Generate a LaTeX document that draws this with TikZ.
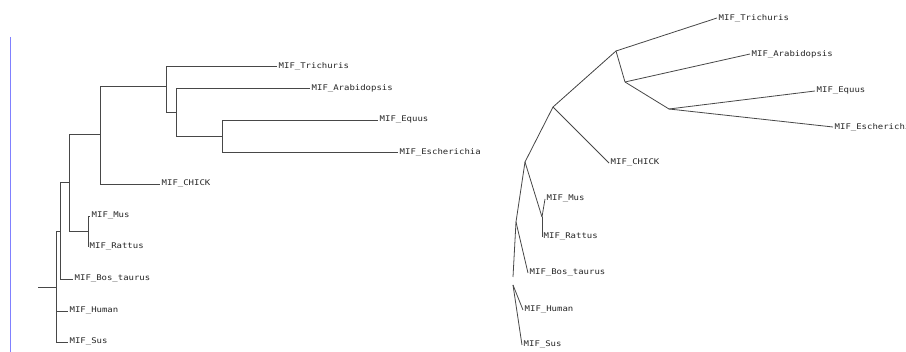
\documentclass[tikz,border=0pt]{standalone}
\usepackage{fontspec}
\newfontfamily\lblfont[FakeStretch=1.15]{DejaVu Sans Mono}
\begin{document}
\begin{tikzpicture}[x=1pt,y=-1pt,
  br/.style={draw=black!72, line width=0.8pt},
  lbl/.style={anchor=west, inner xsep=1.5pt, inner ysep=0pt, font=\lblfont\fontsize{7.8}{8}\selectfont, text=black!85},
  axisline/.style={draw={rgb,255:red,128;green,128;blue,255}, line width=1pt}]
\useasboundingbox (0,0) rectangle (906,352);
\clip (0,0) rectangle (906,352);
\fill[white] (0,0) rectangle (906,352);
% blue rule
\coordinate (b1) at (10,37);
\coordinate (b2) at (10,352);
\draw[axisline] (b1) -- (b2);

% ---------- left tree (rectangular) ----------
\coordinate (R0) at (38,287);
\coordinate (R) at (56,287);
\coordinate (N60) at (60,231);
\coordinate (N69) at (69,182);
\coordinate (N88) at (88,231);
\coordinate (N100) at (100,134);
\coordinate (N166) at (166,86);
\coordinate (N176) at (176,112);
\coordinate (N222) at (222,136);

\node[lbl] (lTri) at (277,66) {MIF\_Trichuris};
\node[lbl] (lAra) at (310,88) {MIF\_Arabidopsis};
\node[lbl] (lEqu) at (378,120) {MIF\_Equus};
\node[lbl] (lEsc) at (398,152) {MIF\_Escherichia};
\node[lbl] (lChi) at (160,184) {MIF\_CHICK};
\node[lbl] (lMus) at (90,216) {MIF\_Mus};
\node[lbl] (lRat) at (88,247) {MIF\_Rattus};
\node[lbl] (lBos) at (73,279) {MIF\_Bos\_taurus};
\node[lbl] (lHum) at (68,311) {MIF\_Human};
\node[lbl] (lSus) at (68,342) {MIF\_Sus};

\draw[br] (R0) -- (R);
\draw[br] (R) |- (N60);
\draw[br] (R) |- (lHum.west);
\draw[br] (R) |- (lSus.west);
\draw[br] (N60) |- (N69);
\draw[br] (N60) |- (lBos.west);
\draw[br] (N69) |- (N100);
\draw[br] (N69) |- (N88);
\draw[br] (N88) |- (lMus.west);
\draw[br] (N88) |- (lRat.west);
\draw[br] (N100) |- (N166);
\draw[br] (N100) |- (lChi.west);
\draw[br] (N166) |- (lTri.west);
\draw[br] (N166) |- (N176);
\draw[br] (N176) |- (lAra.west);
\draw[br] (N176) |- (N222);
\draw[br] (N222) |- (lEqu.west);
\draw[br] (N222) |- (lEsc.west);

% ---------- right tree (radial) ----------
\coordinate (A) at (616,51);
\coordinate (B) at (625,82);
\coordinate (C) at (669,109);
\coordinate (D) at (553,107);
\coordinate (E) at (525,162);
\coordinate (F) at (542,217);
\coordinate (G) at (516,222);
\coordinate (H1) at (513,277);
\coordinate (H2) at (513,285);

\node[lbl] (rTri) at (717,18) {MIF\_Trichuris};
\node[lbl] (rAra) at (750,54) {MIF\_Arabidopsis};
\node[lbl] (rEqu) at (815,91) {MIF\_Equus};
\node[lbl] (rEsc) at (833,127) {MIF\_Escherichia};
\node[lbl] (rChi) at (609,163) {MIF\_CHICK};
\node[lbl] (rMus) at (545,199) {MIF\_Mus};
\node[lbl] (rRat) at (542,237) {MIF\_Rattus};
\node[lbl] (rBos) at (528,273) {MIF\_Bos\_taurus};
\node[lbl] (rHum) at (523,310) {MIF\_Human};
\node[lbl] (rSus) at (522,345) {MIF\_Sus};

\draw[br] (A) -- (rTri.west);
\draw[br] (A) -- (B);
\draw[br] (B) -- (rAra.west);
\draw[br] (B) -- (C);
\draw[br] (C) -- (rEqu.west);
\draw[br] (C) -- (rEsc.west);
\draw[br] (D) -- (A);
\draw[br] (D) -- (rChi.west);
\draw[br] (E) -- (D);
\draw[br] (E) -- (F);
\draw[br] (F) -- (rMus.west);
\draw[br] (F) -- (rRat.west);
\draw[br] (E) -- (G);
\draw[br] (G) -- (rBos.west);
\draw[br] (G) -- (H1);
\draw[br] (H2) -- (rHum.west);
\draw[br] (H2) -- (rSus.west);
\end{tikzpicture}
\end{document}
